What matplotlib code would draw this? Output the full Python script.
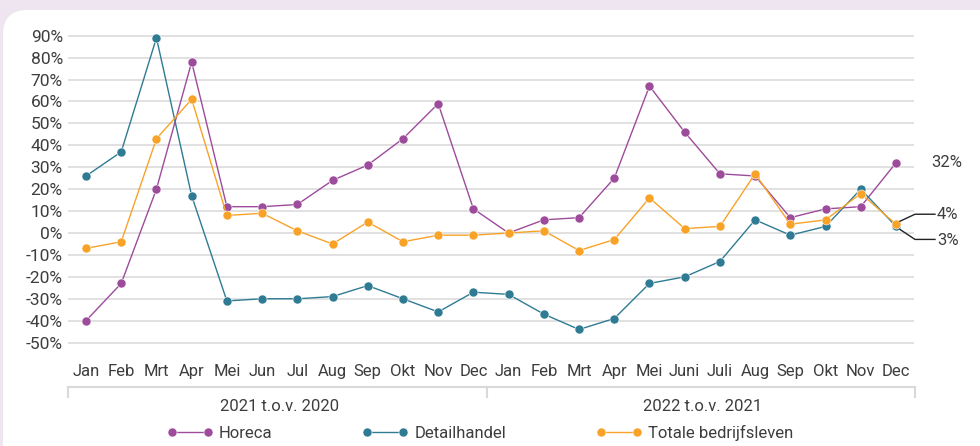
import matplotlib
matplotlib.use("Agg")
import matplotlib.pyplot as plt
from matplotlib.patches import FancyBboxPatch
from matplotlib.lines import Line2D
from matplotlib.transforms import IdentityTransform

plt.rcParams['font.family'] = ['Roboto', 'DejaVu Sans']
plt.rcParams['font.weight'] = 'normal'

months = ["Jan", "Feb", "Mrt", "Apr", "Mei", "Jun", "Jul", "Aug", "Sep", "Okt", "Nov", "Dec",
          "Jan", "Feb", "Mrt", "Apr", "Mei", "Juni", "Juli", "Aug", "Sep", "Okt", "Nov", "Dec"]
groups = ["2021 t.o.v. 2020", "2022 t.o.v. 2021"]

horeca = [-40, -23, 20, 78, 12, 12, 13, 24, 31, 43, 59, 11,
          0, 6, 7, 25, 67, 46, 27, 26, 7, 11, 12, 32]
detailhandel = [26, 37, 89, 17, -31, -30, -30, -29, -24, -30, -36, -27,
                -28, -37, -44, -39, -23, -20, -13, 6, -1, 3, 20, 3]
totale = [-7, -4, 43, 61, 8, 9, 1, -5, 5, -4, -1, -1,
          0, 1, -8, -3, 16, 2, 3, 27, 4, 6, 18, 4]

series_names = ["Horeca", "Detailhandel", "Totale bedrijfsleven"]
colors = ["#9d4b9b", "#2f7b93", "#f8a328"]
yticks = list(range(-50, 100, 10))
TXT = "#3d3d3d"

W, H = 980, 446
fig = plt.figure(figsize=(W / 100, H / 100), dpi=100)
fig.patch.set_facecolor("#efe5f1")
panel = FancyBboxPatch((3 / W, -0.1), 1.2, (H - 10) / H + 0.1,
                       boxstyle="round,pad=0,rounding_size=0.025",
                       transform=fig.transFigure, facecolor="white",
                       edgecolor="none", zorder=-10, mutation_aspect=W / H)
fig.patches.append(panel)

ax = fig.add_axes([68.4 / W, 1 - 349.2 / H, (913.6 - 68.4) / W, (349.2 - 29.1) / H])
ax.set_zorder(1)
ax.set_facecolor("none")
x = list(range(len(months)))
for name, vals, c in zip(series_names, [horeca, detailhandel, totale], colors):
    ax.plot(x, vals, color=c, lw=1.0, marker="o", markersize=6.5,
            markeredgecolor="white", markeredgewidth=0.4, label=name, zorder=3)

ax.set_xlim(-0.5, len(months) - 0.5)
ax.set_ylim(-53, 93)
ax.set_yticks(yticks)
ax.set_yticklabels([f"{v}%" for v in yticks])
ax.set_xticks(x)
ax.set_xticklabels(months)
ax.grid(axis="y", color="#dcdcdc", lw=1.2)
ax.set_axisbelow(True)
for s in ax.spines.values():
    s.set_visible(False)
ax.tick_params(axis="both", length=0, labelsize=12, labelcolor=TXT)
ax.tick_params(axis="y", labelsize=12.5, pad=4)
ax.tick_params(axis="x", pad=11)

# group axis
tb = ax.get_xaxis_transform()
ylin = -0.118
ytick = -0.15
ax.plot([-0.5, 23.55], [ylin, ylin], transform=tb, color="#d9d9d9", lw=1.5, clip_on=False)
for xv in [-0.5, 11.4, 23.55]:
    ax.plot([xv, xv], [ylin, ytick], transform=tb, color="#d9d9d9", lw=1.5, clip_on=False)
ax.text(5.5, -0.18, groups[0], transform=tb, ha="center", va="center", fontsize=12, color=TXT)
ax.text(17.5, -0.18, groups[1], transform=tb, ha="center", va="center", fontsize=12, color=TXT)

leg = fig.legend(loc="center", bbox_to_anchor=(480 / W, 1 - 433 / H), ncol=3, frameon=False,
                 fontsize=12, handlelength=2.75, handletextpad=0.35, columnspacing=5.4,
                 numpoints=2, labelcolor=TXT)

# end labels
fig.canvas.draw()
def pix(xv, yv):
    return ax.transData.transform((xv, yv))

px, py = pix(23, horeca[-1])
fig.text((px + 35) / W, py / H, "32%", ha="left", va="center", fontsize=12, color=TXT)

px, py = pix(23, totale[-1])
pts = [(px + 4, py + 3), (px + 19, py + 10), (px + 39, py + 10)]
fig.add_artist(Line2D([p[0] for p in pts], [p[1] for p in pts], transform=IdentityTransform(),
                      color="#222222", lw=1.0))
fig.text((px + 41) / W, (py + 10) / H, "4%", ha="left", va="center", fontsize=12, color=TXT)

px, py = pix(23, detailhandel[-1])
pts = [(px + 4, py - 3), (px + 19, py - 13), (px + 39, py - 13)]
fig.add_artist(Line2D([p[0] for p in pts], [p[1] for p in pts], transform=IdentityTransform(),
                      color="#222222", lw=1.0))
fig.text((px + 41) / W, (py - 14) / H, "3%", ha="left", va="center", fontsize=12, color=TXT)

fig.savefig("out.png", dpi=100, facecolor=fig.get_facecolor())
